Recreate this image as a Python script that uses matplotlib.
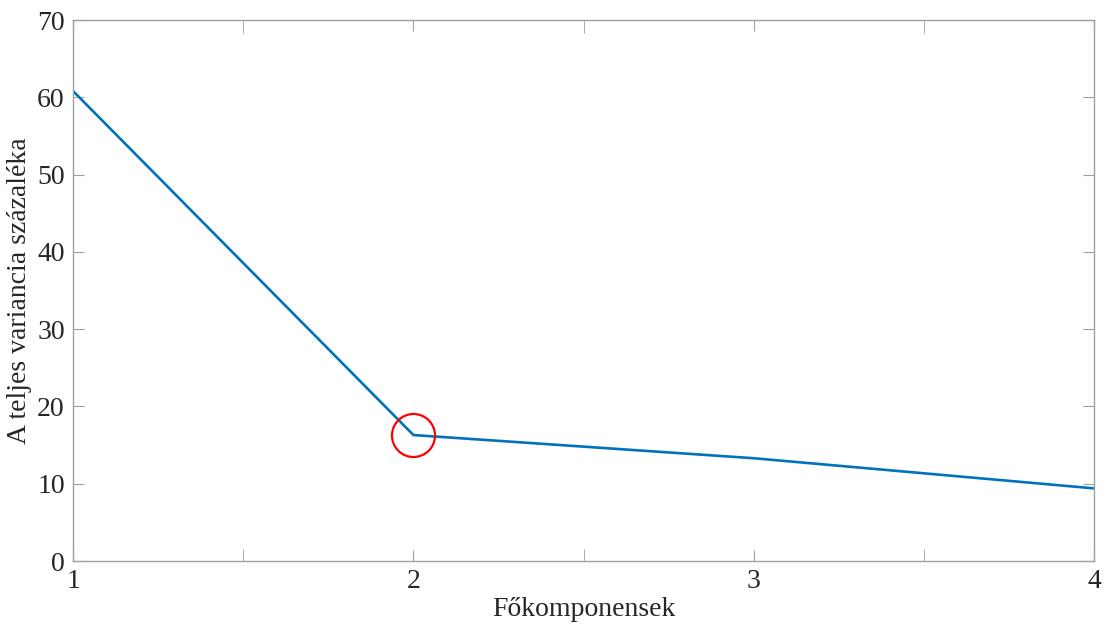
import matplotlib.pyplot as plt
import numpy as np

# fokomponensek es a teljes variancia szazaleka
components = [1, 2, 3, 4]
variance_pct = [60.8, 16.3, 13.3, 9.4]
elbow_x = [2]
elbow_y = [16.3]
yticks = [0, 10, 20, 30, 40, 50, 60, 70]

plt.rcParams['font.family'] = ['Liberation Serif', 'DejaVu Serif']

fig = plt.figure(figsize=(11.08, 6.33), dpi=100)
ax = fig.add_axes([0.066, 0.1137, 0.9214, 0.8547])

ax.plot(components, variance_pct, color='#0072BD', lw=1.9)
ax.plot(elbow_x, elbow_y, 'o', mfc='none', mec='#ff0000', ms=31, mew=1.6)

ax.set_xlim(1, 4)
ax.set_ylim(0, 70)
ax.set_xticks(components)
ax.set_xticks([1.5, 2.5, 3.5], minor=True)
ax.set_yticks(yticks)

for s in ax.spines.values():
    s.set_color('#a0a0a0')
    s.set_linewidth(1.0)
ax.tick_params(which='both', direction='in', top=True, right=True,
               color='#a0a0a0', labelsize=20, labelcolor='#262626', pad=6)
ax.tick_params(which='major', length=8)
ax.tick_params(which='minor', length=9)

ax.set_xlabel('Főkomponensek', fontsize=20, color='#262626', labelpad=2)
ax.set_ylabel('A teljes variancia százaléka', fontsize=20, color='#262626', labelpad=4)

plt.savefig('out.png', dpi=100)
